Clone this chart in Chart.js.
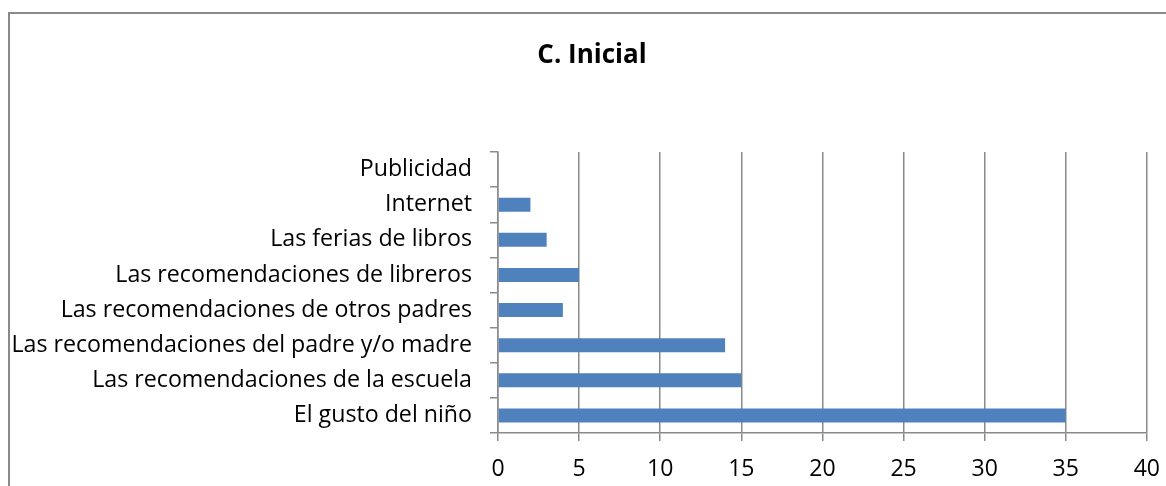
<!DOCTYPE html>
<html>
<head>
<meta charset="utf-8">
<script src="https://cdn.jsdelivr.net/npm/chart.js@4/dist/chart.umd.min.js"></script>
<style>
    html, body { margin: 0; padding: 0; background: #fff; overflow: hidden; }
    .frame {
        position: absolute;
        left: 8px;
        top: 12px;
        width: 1200px;
        height: 500px;
        border-left: 2px solid #8a8a8a;
        border-top: 2px solid #8a8a8a;
        pointer-events: none;
    }
    .chart-title {
        position: absolute;
        left: 392px;
        width: 400px;
        top: 35px;
        line-height: 36px;
        text-align: center;
        font: bold 26px "Open Sans", "Liberation Sans", sans-serif;
        color: #000;
    }
    /* el lienzo sobresale un poco por la derecha, como el marco */
    .chart-wrap { position: absolute; left: 0; top: 0; width: 1175px; height: 486px; }
</style>
</head>
<body>
<div class="chart-wrap"><canvas id="inicialChart" width="1175" height="486"></canvas></div>
<div class="frame"></div>
<div class="chart-title">C. Inicial</div>
<script>
// Fuentes de elección de libros - ciclo inicial
const categorias = [
    'Publicidad',
    'Internet',
    'Las ferias de libros',
    'Las recomendaciones de libreros',
    'Las recomendaciones de otros padres',
    'Las recomendaciones del padre y/o madre',
    'Las recomendaciones de la escuela',
    'El gusto del niño'
];
const respuestas = [0, 2, 3, 5, 4, 14, 15, 35];
const ejeMin = 0;
const ejeMax = 40;
const ejePaso = 5;

const FONT = '"Open Sans", "Liberation Sans", sans-serif';
const GRIS = '#8a8a8a';

Chart.defaults.font.family = FONT;
Chart.defaults.color = '#000';

const ctx = document.getElementById('inicialChart').getContext('2d');

new Chart(ctx, {
    type: 'bar',
    data: {
        labels: categorias,
        datasets: [{
            label: 'C. Inicial',
            data: respuestas,
            backgroundColor: '#4f81bd',
            borderWidth: 0,
            barPercentage: 0.4,
            categoryPercentage: 1.0
        }]
    },
    options: {
        indexAxis: 'y',
        responsive: false,
        animation: false,
        layout: {
            // el título va en HTML, aquí solo se reserva su espacio
            padding: { left: 0, right: 19, top: 152, bottom: 0 }
        },
        plugins: {
            legend: { display: false },
            tooltip: { enabled: false },
            title: { display: false }
        },
        scales: {
            x: {
                min: ejeMin,
                max: ejeMax,
                ticks: {
                    stepSize: ejePaso,
                    color: '#000',
                    font: { size: 23 },
                    padding: 15
                },
                grid: {
                    color: GRIS,
                    lineWidth: 1.5,
                    tickLength: 8
                },
                border: { color: GRIS, width: 1.5 },
                afterFit: (scale) => { scale.height = 53; }
            },
            y: {
                ticks: {
                    color: '#000',
                    font: { size: 23.2 },
                    padding: 18
                },
                grid: {
                    offset: true,
                    drawOnChartArea: false,
                    color: GRIS,
                    lineWidth: 1.5,
                    tickLength: 8
                },
                border: { color: GRIS, width: 1.5 },
                afterFit: (scale) => { scale.width = 498; }
            }
        }
    }
});
</script>
</body>
</html>
